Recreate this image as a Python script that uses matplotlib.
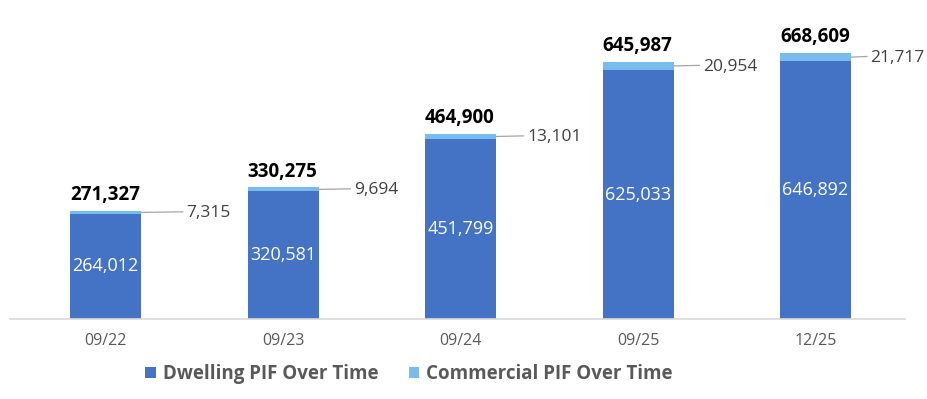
import matplotlib.pyplot as plt
import numpy as np

periods = ["09/22", "09/23", "09/24", "09/25", "12/25"]
dwelling = [264012, 320581, 451799, 625033, 646892]
commercial = [7315, 9694, 13101, 20954, 21717]

blue = "#4472C4"
light_blue = "#78BBEC"

plt.rcParams['font.family'] = ['Open Sans', 'DejaVu Sans']

fig = plt.figure(figsize=(9.27, 3.99), dpi=100)
ax = fig.add_axes([10/927, 80/399, 895/927, 309/399])

x = np.arange(len(periods))
w = 0.40
totals = [d + c for d, c in zip(dwelling, commercial)]

ax.bar(x, dwelling, w, color=blue, label="Dwelling PIF Over Time", zorder=2)
ax.bar(x, commercial, w, bottom=dwelling, color=light_blue,
       label="Commercial PIF Over Time", zorder=2)

ax.set_xlim(-0.538, 4.504)
ax.set_ylim(0, 776000)

# gap between bar edge and commercial label, in axis units
gaps = [0.235, 0.18, 0.155, 0.145, 0.09]
for i in range(len(periods)):
    d, c, t = dwelling[i], commercial[i], totals[i]
    ax.text(x[i], d / 2, f"{d:,}", ha="center", va="center",
            color="white", fontsize=13, zorder=3)
    ax.text(x[i] - w / 2, t + 14000, f"{t:,}", ha="left", va="bottom",
            color="black", fontsize=13.5, fontweight="bold", zorder=3)
    ym = d + c / 2
    x0 = x[i] + w / 2
    x1 = x0 + gaps[i]
    ax.plot([x0, x1], [ym, ym + 1500], color="#A6A6A6", lw=0.9, zorder=3)
    ax.text(x1 + 0.02, ym - 2500, f"{c:,}", ha="left", va="center",
            color="#404040", fontsize=12.5, zorder=3)

for s in ["top", "right", "left"]:
    ax.spines[s].set_visible(False)
ax.spines["bottom"].set_color("#D9D9D9")
ax.spines["bottom"].set_linewidth(1.2)
ax.set_yticks([])
ax.set_xticks(x)
ax.set_xticklabels(periods, color="#595959", fontsize=11.5)
ax.tick_params(axis="x", length=0, pad=10)

fig.legend(loc="center", bbox_to_anchor=(409/927, 1 - 374/399), ncol=2,
           frameon=False, handlelength=0.55, handleheight=0.55,
           handletextpad=0.4, columnspacing=1.6,
           prop={"size": 13.5, "weight": "bold"}, labelcolor="#595959")

fig.savefig("out.png", dpi=100)
